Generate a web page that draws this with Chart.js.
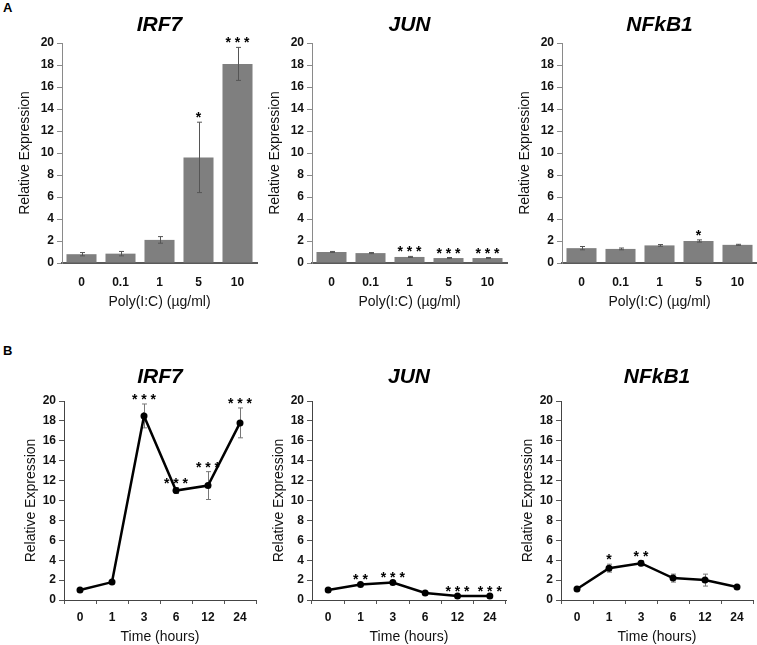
<!DOCTYPE html>
<html><head><meta charset="utf-8">
<script src="https://cdn.jsdelivr.net/npm/chart.js@4.4.0/dist/chart.umd.min.js"></script>
<style>
html,body{margin:0;padding:0;background:#fff;}
#wrap{position:relative;width:757px;height:645px;overflow:hidden;background:#fff;}
#wrap canvas{position:absolute;}
.lbl{position:absolute;font:bold 13px "Liberation Sans",Arial,sans-serif;color:#000;}
</style></head><body>
<div id="wrap">
<div class="lbl" style="left:3px;top:0px">A</div>
<div class="lbl" style="left:3px;top:343px">B</div>
</div>
<script>
// ---- data ----
const doseLabels = ['0', '0.1', '1', '5', '10'];
const timeLabels = ['0', '1', '3', '6', '12', '24'];
const yTickValues = [0, 2, 4, 6, 8, 10, 12, 14, 16, 18, 20];

const irf7Dose = [0.8, 0.85, 2.1, 9.6, 18.1];
const irf7DoseErr = [0.15, 0.2, 0.3, 3.2, 1.5];
const irf7DoseStars = ['', '', '', '*', '***'];

const junDose = [1.0, 0.9, 0.55, 0.45, 0.45];
const junDoseErr = [0.05, 0.05, 0.05, 0.05, 0.05];
const junDoseStars = ['', '', '***', '***', '***'];

const nfkb1Dose = [1.35, 1.28, 1.6, 2.0, 1.65];
const nfkb1DoseErr = [0.15, 0.08, 0.08, 0.1, 0.05];
const nfkb1DoseStars = ['', '', '', '*', ''];

const irf7Time = [1.0, 1.8, 18.5, 11.0, 11.5, 17.8];
const irf7TimeErr = [0.05, 0.1, 1.2, 0.3, 1.4, 1.5];
const irf7TimeStars = ['', '', '***', '***', '***', '***'];

const junTime = [1.0, 1.55, 1.75, 0.7, 0.4, 0.4];
const junTimeErr = [0.05, 0.1, 0.1, 0.05, 0.05, 0.05];
const junTimeStars = ['', '**', '***', '', '***', '***'];

const nfkb1Time = [1.1, 3.2, 3.7, 2.2, 2.0, 1.3];
const nfkb1TimeErr = [0.1, 0.4, 0.25, 0.4, 0.6, 0.1];
const nfkb1TimeStars = ['', '*', '**', '', '', ''];

const doseTitle = 'Poly(I:C) (\u00b5g/ml)';
const timeTitle = 'Time (hours)';
const yTitle = 'Relative Expression';

// ---- drawing ----
const FAM = '"Liberation Sans", Arial, sans-serif';
const wrap = document.getElementById('wrap');

function decor(cfg) {
  function errorBars(chart) {
    const {ctx, scales: {x, y}} = chart;
    ctx.save();
    ctx.strokeStyle = cfg.errColor;
    ctx.lineWidth = 1;
    cfg.means.forEach((m, i) => {
      const e = cfg.errs[i];
      const px = Math.round(x.getPixelForValue(i)) + 0.5;
      const yt = y.getPixelForValue(m + e);
      const yb = y.getPixelForValue(m - e);
      ctx.beginPath();
      ctx.moveTo(px, yt); ctx.lineTo(px, yb);
      ctx.moveTo(px - 2.5, yt); ctx.lineTo(px + 2.5, yt);
      ctx.moveTo(px - 2.5, yb); ctx.lineTo(px + 2.5, yb);
      ctx.stroke();
    });
    ctx.restore();
  }
  return {
    id: 'decor',
    beforeDatasetsDraw(chart) { if (cfg.errBehind) errorBars(chart); },
    afterDatasetsDraw(chart) { if (!cfg.errBehind) errorBars(chart); },
    afterDraw(chart) {
      const {ctx, chartArea: ca, scales: {x, y}} = chart;
      ctx.save();
      // stars
      ctx.fillStyle = '#000';
      ctx.font = 'bold 14px ' + FAM;
      ctx.textAlign = 'center';
      ctx.textBaseline = 'alphabetic';
      cfg.stars.forEach((s, i) => {
        if (!s) return;
        const px = x.getPixelForValue(i);
        const yt = y.getPixelForValue(cfg.means[i] + cfg.errs[i]);
        ctx.fillText(s.split('').join(' '), px, yt - 8 + 8);
      });
      // gene title
      ctx.font = 'italic bold 21px ' + FAM;
      ctx.textBaseline = 'middle';
      ctx.fillText(cfg.title, (ca.left + ca.right) / 2, ca.top - cfg.titleOff);
      // x title
      ctx.fillStyle = '#111';
      ctx.font = '14px ' + FAM;
      ctx.fillText(cfg.xTitle, (ca.left + ca.right) / 2, ca.bottom + cfg.xTitleOff);
      // y title
      ctx.translate(ca.left - cfg.yTitleOff, (ca.top + ca.bottom) / 2);
      ctx.rotate(-Math.PI / 2);
      ctx.fillText(yTitle, 0, 0);
      ctx.restore();
    }
  };
}

function makeChart(p) {
  const c = document.createElement('canvas');
  c.width = p.W; c.height = p.H;
  c.style.left = p.L + 'px'; c.style.top = p.T + 'px';
  c.style.width = p.W + 'px'; c.style.height = p.H + 'px';
  wrap.appendChild(c);
  const isBar = p.type === 'bar';
  const dataset = isBar ? {
    data: p.means, backgroundColor: '#7f7f7f', borderWidth: 0,
    barPercentage: 0.77, categoryPercentage: 1.0
  } : {
    data: p.means, borderColor: '#000', borderWidth: 2.5, tension: 0,
    pointRadius: 3.5, pointBackgroundColor: '#000', pointBorderColor: '#000', pointBorderWidth: 0
  };
  const xScale = isBar ? {
    offset: true,
    grid: {display: false, drawTicks: false},
    border: {display: true, color: '#5a5a5a', width: 2},
    ticks: {font: {family: FAM, size: 12, weight: 'bold'}, color: '#111', padding: 12, maxRotation: 0},
    afterFit(s) { s.height = p.xh; }
  } : {
    offset: true,
    grid: {display: true, offset: true, drawOnChartArea: false, drawTicks: true, tickLength: 4, color: '#555', lineWidth: 1},
    border: {display: true, color: '#444', width: 1},
    ticks: {font: {family: FAM, size: 12, weight: 'bold'}, color: '#111', padding: 6, maxRotation: 0},
    afterFit(s) { s.height = p.xh; }
  };
  const yScale = {
    min: 0, max: 20,
    afterBuildTicks(s) { s.ticks = yTickValues.map(v => ({value: v})); },
    grid: {display: true, drawOnChartArea: false, drawTicks: true, tickLength: 5, color: isBar ? '#8a8a8a' : '#555', lineWidth: 1},
    border: {display: true, color: isBar ? '#8a8a8a' : '#444', width: 1},
    ticks: {font: {family: FAM, size: 12, weight: 'bold'}, color: '#111', padding: 3},
    afterFit(s) { s.width = p.yw; }
  };
  new Chart(c, {
    type: p.type,
    data: {labels: p.labels, datasets: [dataset]},
    options: {
      responsive: false, animation: false,
      layout: {padding: {left: 0, right: p.pr, top: p.pt, bottom: 0}},
      plugins: {legend: {display: false}, tooltip: {enabled: false}, title: {display: false}},
      scales: {x: xScale, y: yScale}
    },
    plugins: [decor({
      means: p.means, errs: p.errs, stars: p.stars, title: p.title,
      errColor: isBar ? '#555' : '#777', errBehind: !isBar,
      titleOff: p.titleOff, xTitle: p.xTitle, xTitleOff: p.xTitleOff, yTitleOff: p.yTitleOff
    })]
  });
}

const topRow = {type: 'bar', labels: doseLabels, T: 0, H: 320, pt: 43, xh: 57, titleOff: 18, xTitle: doseTitle, xTitleOff: 39, yTitleOff: 37};
const botRow = {type: 'line', labels: timeLabels, T: 320, H: 325, pt: 81, xh: 45, titleOff: 24, xTitle: timeTitle, xTitleOff: 37, yTitleOff: 33};

makeChart(Object.assign({}, topRow, {L: 0, W: 260, yw: 62, pr: 3, means: irf7Dose, errs: irf7DoseErr, stars: irf7DoseStars, title: 'IRF7'}));
makeChart(Object.assign({}, topRow, {L: 250, W: 260, yw: 62, pr: 3, means: junDose, errs: junDoseErr, stars: junDoseStars, title: 'JUN'}));
makeChart(Object.assign({}, topRow, {L: 500, W: 257, yw: 62, pr: 0, means: nfkb1Dose, errs: nfkb1DoseErr, stars: nfkb1DoseStars, title: 'NFkB1'}));
makeChart(Object.assign({}, botRow, {L: 0, W: 260, yw: 64, pr: 2, means: irf7Time, errs: irf7TimeErr, stars: irf7TimeStars, title: 'IRF7'}));
makeChart(Object.assign({}, botRow, {L: 250, W: 260, yw: 62, pr: 2, means: junTime, errs: junTimeErr, stars: junTimeStars, title: 'JUN'}));
makeChart(Object.assign({}, botRow, {L: 500, W: 257, yw: 61, pr: 0, means: nfkb1Time, errs: nfkb1TimeErr, stars: nfkb1TimeStars, title: 'NFkB1'}));
</script>
</body></html>
